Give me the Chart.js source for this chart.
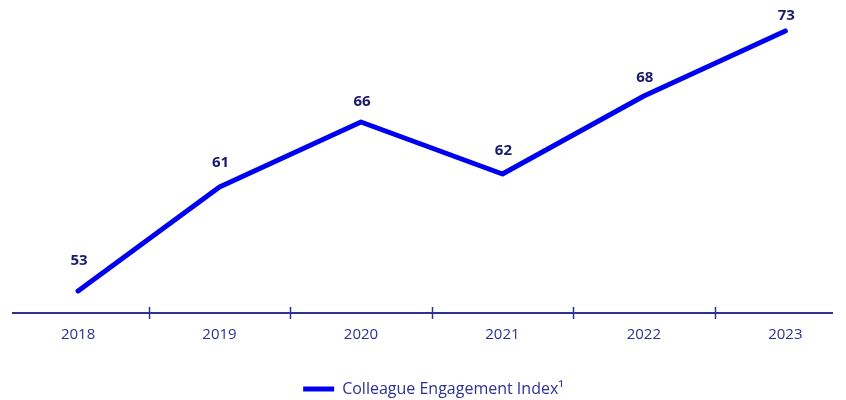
<!DOCTYPE html>
<html>
<head>
<meta charset="utf-8">
<script src="https://cdn.jsdelivr.net/npm/chart.js@4/dist/chart.umd.min.js"></script>
<style>
html,body{margin:0;padding:0;background:#fff;overflow:hidden;}
#wrap{width:846px;height:400px;position:relative;}
</style>
</head>
<body>
<div id="wrap"><canvas id="c" width="846" height="400"></canvas></div>
<script>
const years = ['2018', '2019', '2020', '2021', '2022', '2023'];
const engagement = [53, 61, 66, 62, 68, 73];
const seriesName = 'Colleague Engagement Index\u00B9';

const axisColor = '#2e3192';
const labelColor = '#1a1a6e';
const lineColor = '#0000f0';

const dividerPlugin = {
  id: 'dividers',
  afterLayout(chart) {
    if (chart.legend) {
      chart.legend.left += 11;
      chart.legend.right += 11;
      chart.legend.top += 7;
      chart.legend.bottom += 7;
    }
  },
  afterDraw(chart) {
    const xs = chart.scales.x;
    const ctx = chart.ctx;
    const y = chart.chartArea.bottom;
    ctx.save();
    ctx.strokeStyle = axisColor;
    ctx.lineWidth = 1.5;
    for (let i = 0; i < years.length - 1; i++) {
      const px = Math.round(xs.getPixelForValue(i + 0.5)) + 0.5;
      ctx.beginPath();
      ctx.moveTo(px, y - 6);
      ctx.lineTo(px, y + 6);
      ctx.stroke();
    }
    ctx.restore();
  }
};

const valueLabelPlugin = {
  id: 'valueLabels',
  afterDatasetsDraw(chart) {
    const ctx = chart.ctx;
    const meta = chart.getDatasetMeta(0);
    const ly = chart.scales.yLabel;
    ctx.save();
    ctx.font = 'bold 15px "Open Sans"';
    ctx.fillStyle = labelColor;
    ctx.textAlign = 'center';
    ctx.textBaseline = 'middle';
    meta.data.forEach((pt, i) => {
      ctx.fillText(String(engagement[i]), pt.x + 1, ly.getPixelForValue(engagement[i]));
    });
    ctx.restore();
  }
};

new Chart(document.getElementById('c'), {
  type: 'line',
  data: {
    datasets: [{
      label: seriesName,
      data: engagement.map((v, i) => ({x: i, y: v})),
      borderColor: lineColor,
      backgroundColor: lineColor,
      borderWidth: 5,
      borderCapStyle: 'round',
      borderJoinStyle: 'round',
      pointRadius: 0,
      pointHoverRadius: 0,
      tension: 0,
      clip: false
    }]
  },
  options: {
    responsive: false,
    animation: false,
    events: [],
    layout: {padding: {left: 13, right: 14, top: 0, bottom: 0}},
    scales: {
      x: {
        type: 'linear',
        min: -0.46,
        max: 5.33,
        grid: {display: false},
        border: {display: true, color: axisColor, width: 2},
        afterBuildTicks(scale) {
          scale.ticks = years.map((y, i) => ({value: i}));
        },
        afterFit(scale) {
          const lg = scale.chart.legend;
          scale.height = scale.chart.height - 313 - (lg ? lg.height : 0);
        },
        ticks: {
          autoSkip: false,
          maxRotation: 0,
          padding: 5,
          color: axisColor,
          font: {family: '"Open Sans"', size: 15},
          callback: (v) => years[v]
        }
      },
      y: {
        display: false,
        min: 51.31,
        max: 75.38
      },
      yLabel: {
        display: false,
        position: 'left',
        min: 48.755,
        max: 74.306
      }
    },
    plugins: {
      legend: {
        position: 'bottom',
        labels: {
          usePointStyle: true,
          pointStyle: 'line',
          pointStyleWidth: 31,
          color: axisColor,
          font: {family: '"Open Sans"', size: 16},
          padding: 15
        }
      },
      tooltip: {enabled: false}
    }
  },
  plugins: [dividerPlugin, valueLabelPlugin]
});
</script>
</body>
</html>
